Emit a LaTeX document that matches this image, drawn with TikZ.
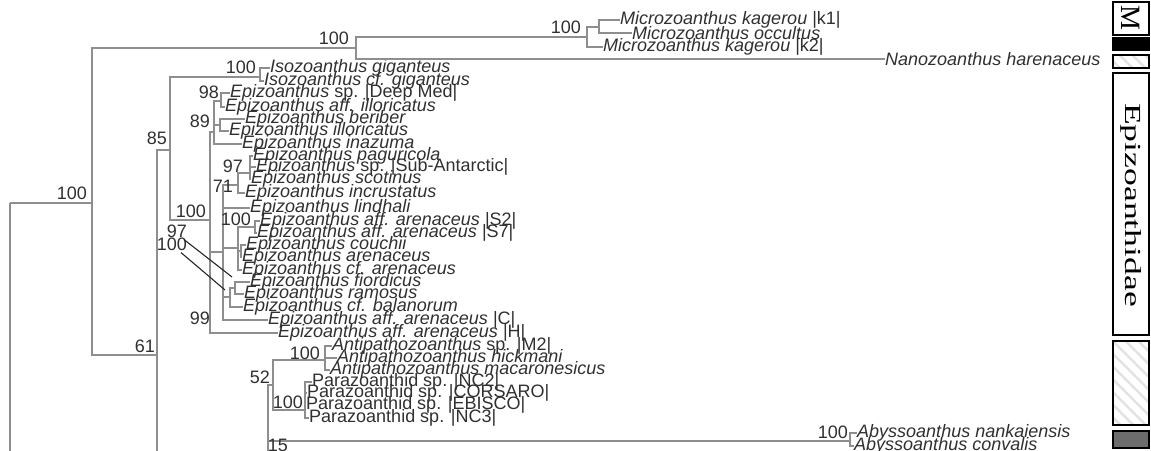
\documentclass[tikz,border=0pt]{standalone}
\usepackage{fontspec}
\setmainfont{Liberation Serif}
\newfontfamily\arialf{Liberation Sans}
\usetikzlibrary{patterns.meta}
\definecolor{txt}{HTML}{303030}
\definecolor{brc}{HTML}{8E8E8E}
\begin{document}
\begin{tikzpicture}[x=1pt,y=-1pt,
 br/.style={draw=brc,line width=1.3pt},
 taxon/.style={anchor=west,inner sep=0pt,text=txt,font=\arialf\fontsize{18}{18}\selectfont\itshape},
 supp/.style={anchor=east,inner sep=0pt,text=txt,font=\arialf\fontsize{18}{18}\selectfont},
 ptr/.style={draw=black!85,line width=1.1pt},
 band/.style={draw=black,line width=2.6pt},
 hatch/.style={band,pattern={Lines[angle=-45,distance=9pt,line width=2.5pt]},pattern color=gray!22},
 bandtext/.style={rotate=-90,inner sep=0pt,text=black},
]
\useasboundingbox (0,0) rectangle (1151,450);
\begin{scope}
\clip (0,0) rectangle (1151,450);
% ---------- taxa ----------
\node[taxon] (t1) at (620,20) {Microzoanthus kagerou {\upshape |k1|}};
\node[taxon] (t2) at (632,33) {Microzoanthus occultus};
\node[taxon] (t3) at (603,47) {Microzoanthus kagerou {\upshape |k2|}};
\node[taxon] (t4) at (885,59) {Nanozoanthus harenaceus};
\node[taxon] (t5) at (270,68) {Isozoanthus giganteus};
\node[taxon] (t6) at (264,81) {Isozoanthus cf. giganteus};
\node[taxon] (t7) at (230,93) {Epizoanthus {\upshape sp. |Deep Med|}};
\node[taxon] (t8) at (225,107) {Epizoanthus aff. illoricatus};
\node[taxon] (t9) at (245,119) {Epizoanthus beriber};
\node[taxon] (t10) at (229,131) {Epizoanthus illoricatus};
\node[taxon] (t11) at (242,144) {Epizoanthus inazuma};
\node[taxon] (t12) at (253,156) {Epizoanthus paguricola};
\node[taxon] (t13) at (256,167) {Epizoanthus {\upshape sp. |Sub-Antarctic|}};
\node[taxon] (t14) at (251,179) {Epizoanthus scotinus};
\node[taxon] (t15) at (245,193) {Epizoanthus incrustatus};
\node[taxon] (t16) at (250,208) {Epizoanthus lindhali};
\node[taxon] (t17) at (260,221) {Epizoanthus aff. arenaceus {\upshape |S2|}};
\node[taxon] (t18) at (257,233) {Epizoanthus aff. arenaceus {\upshape |S7|}};
\node[taxon] (t19) at (246,245) {Epizoanthus couchii};
\node[taxon] (t20) at (242,257) {Epizoanthus arenaceus};
\node[taxon] (t21) at (242,270) {Epizoanthus cf. arenaceus};
\node[taxon] (t22) at (250,282) {Epizoanthus fiordicus};
\node[taxon] (t23) at (244,294) {Epizoanthus ramosus};
\node[taxon] (t24) at (243,307) {Epizoanthus cf. balanorum};
\node[taxon] (t25) at (268,320) {Epizoanthus aff. arenaceus {\upshape |C|}};
\node[taxon] (t26) at (278,333) {Epizoanthus aff. arenaceus {\upshape |H|}};
\node[taxon] (t27) at (332,346) {Antipathozoanthus {\upshape sp. |M2|}};
\node[taxon] (t28) at (337,358) {Antipathozoanthus hickmani};
\node[taxon] (t29) at (330,370) {Antipathozoanthus macaronesicus};
\node[taxon] (t30) at (312,382) {\upshape Parazoanthid sp. |NC2|};
\node[taxon] (t31) at (307,393) {\upshape Parazoanthid sp. |CORSARO|};
\node[taxon] (t32) at (306,405) {\upshape Parazoanthid sp. |EBISCO|};
\node[taxon] (t33) at (309,418) {\upshape Parazoanthid sp. |NC3|};
\node[taxon] (t34) at (857,433) {Abyssoanthus nankaiensis};
\node[taxon] (t35) at (854,446) {Abyssoanthus convalis};
% ---------- internal nodes ----------
\coordinate (R) at (10,203);
\coordinate (Rbot) at (10,470);
\coordinate (N1) at (92,203);
\coordinate (N2) at (356,48);
\coordinate (NMic) at (587,37);
\coordinate (NMk) at (599,27);
\coordinate (N61) at (157,355);
\coordinate (N85) at (170,150);
\coordinate (NIso) at (260,77);
\coordinate (N208) at (210,220);
\coordinate (N89) at (214,132);
\coordinate (N98) at (221,101);
\coordinate (Nbi) at (220,125);
\coordinate (N224) at (223,252);
\coordinate (N71) at (238,185);
\coordinate (N97) at (250,173);
\coordinate (N238) at (238,248);
\coordinate (N255) at (255,227);
\coordinate (Nca) at (241,251);
\coordinate (N230) at (230,297);
\coordinate (Nfr) at (235,288);
\coordinate (N268) at (268,470);
\coordinate (N52) at (273,385);
\coordinate (NAnti) at (325,360);
\coordinate (NPara) at (305,410);
\coordinate (NAb) at (850,441);
% ---------- branches ----------
\draw[br] (R) -- (N1);
\draw[br] (R) -- (Rbot);
\draw[br] (N1) |- (N2);
\draw[br] (N1) |- (N61);
\draw[br] (N2) |- (NMic);
\draw[br] (N2) |- (t4.west);
\draw[br] (NMic) |- (NMk);
\draw[br] (NMic) |- (t3.west);
\draw[br] (NMk) |- (t1.west);
\draw[br] (NMk) |- (t2.west);
\draw[br] (N61) |- (N85);
\draw[br] (N61) |- (N268);
\draw[br] (N85) |- (NIso);
\draw[br] (N85) |- (N208);
\draw[br] (NIso) |- (t5.west);
\draw[br] (NIso) |- (t6.west);
\draw[br] (N208) |- (N89);
\draw[br] (N208) |- (N224);
\draw[br] (N208) |- (t26.west);
\draw[br] (N89) |- (N98);
\draw[br] (N89) |- (Nbi);
\draw[br] (N89) |- (t11.west);
\draw[br] (N98) |- (t7.west);
\draw[br] (N98) |- (t8.west);
\draw[br] (Nbi) |- (t9.west);
\draw[br] (Nbi) |- (t10.west);
\draw[br] (N224) |- (N71);
\draw[br] (N224) |- (t16.west);
\draw[br] (N224) |- (N238);
\draw[br] (N224) |- (N230);
\draw[br] (N224) |- (t25.west);
\draw[br] (N71) |- (N97);
\draw[br] (N71) |- (t15.west);
\draw[br] (N97) |- (t12.west);
\draw[br] (N97) |- (t13.west);
\draw[br] (N97) |- (t14.west);
\draw[br] (N238) |- (N255);
\draw[br] (N238) |- (Nca);
\draw[br] (N238) |- (t21.west);
\draw[br] (N255) |- (t17.west);
\draw[br] (N255) |- (t18.west);
\draw[br] (Nca) |- (t19.west);
\draw[br] (Nca) |- (t20.west);
\draw[br] (N230) |- (Nfr);
\draw[br] (N230) |- (t24.west);
\draw[br] (Nfr) |- (t22.west);
\draw[br] (Nfr) |- (t23.west);
\draw[br] (N268) |- (N52);
\draw[br] (N268) |- (NAb);
\draw[br] (N52) |- (NAnti);
\draw[br] (N52) |- (NPara);
\draw[br] (NAnti) |- (t27.west);
\draw[br] (NAnti) |- (t28.west);
\draw[br] (NAnti) |- (t29.west);
\draw[br] (NPara) |- (t30.west);
\draw[br] (NPara) |- (t31.west);
\draw[br] (NPara) |- (t32.west);
\draw[br] (NPara) |- (t33.west);
\draw[br] (NAb) |- (t34.west);
\draw[br] (NAb) |- (t35.west);
% ---------- support values ----------
\node[supp] (s1) at (87,193) {100};
\node[supp] (s2) at (349,38) {100};
\node[supp] (s3) at (581,27) {100};
\node[supp] (s4) at (256,67) {100};
\node[supp] (s5) at (219,92) {98};
\node[supp] (s6) at (210,121) {89};
\node[supp] (s7) at (167,138) {85};
\node[supp] (s8) at (243,166) {97};
\node[supp] (s9) at (233,186) {71};
\node[supp] (s10) at (206,211) {100};
\node[supp] (s11) at (251,219) {100};
\node[supp] (s12) at (187,231) {97};
\node[supp] (s13) at (187,244) {100};
\node[supp] (s14) at (210,318) {99};
\node[supp] (s15) at (155,346) {61};
\node[supp] (s16) at (320,353) {100};
\node[supp] (s17) at (270,377) {52};
\node[supp] (s18) at (303,402) {100};
\node[supp] (s19) at (288,445) {15};
\node[supp] (s20) at (848,432) {100};
\coordinate (p1) at (232,277);
\coordinate (p2) at (225,290);
\draw[ptr] (s12.south east) ++(-3,2) -- (p1);
\draw[ptr] (s13.south east) ++(-6,2) -- (p2);
% ---------- side bands ----------
\draw[band,fill=white] (1113,2) rectangle (1149,35);
\node[bandtext,font=\fontsize{28}{28}\selectfont] (bM) at (1131,18) {M};
\draw[band,fill=black] (1113,38) rectangle (1149,50);
\draw[hatch] (1113,55) rectangle (1149,68);
\draw[band,fill=white] (1113,73) rectangle (1149,335);
\node[bandtext,font=\fontsize{23}{23}\selectfont] (bE) at (1131,205) {\scalebox{1.55}[1]{Epizoanthidae}};
\draw[hatch] (1113,341) rectangle (1149,425);
\draw[band,fill=gray!85!black] (1113,431) rectangle (1149,448);
\end{scope}
\end{tikzpicture}
\end{document}
